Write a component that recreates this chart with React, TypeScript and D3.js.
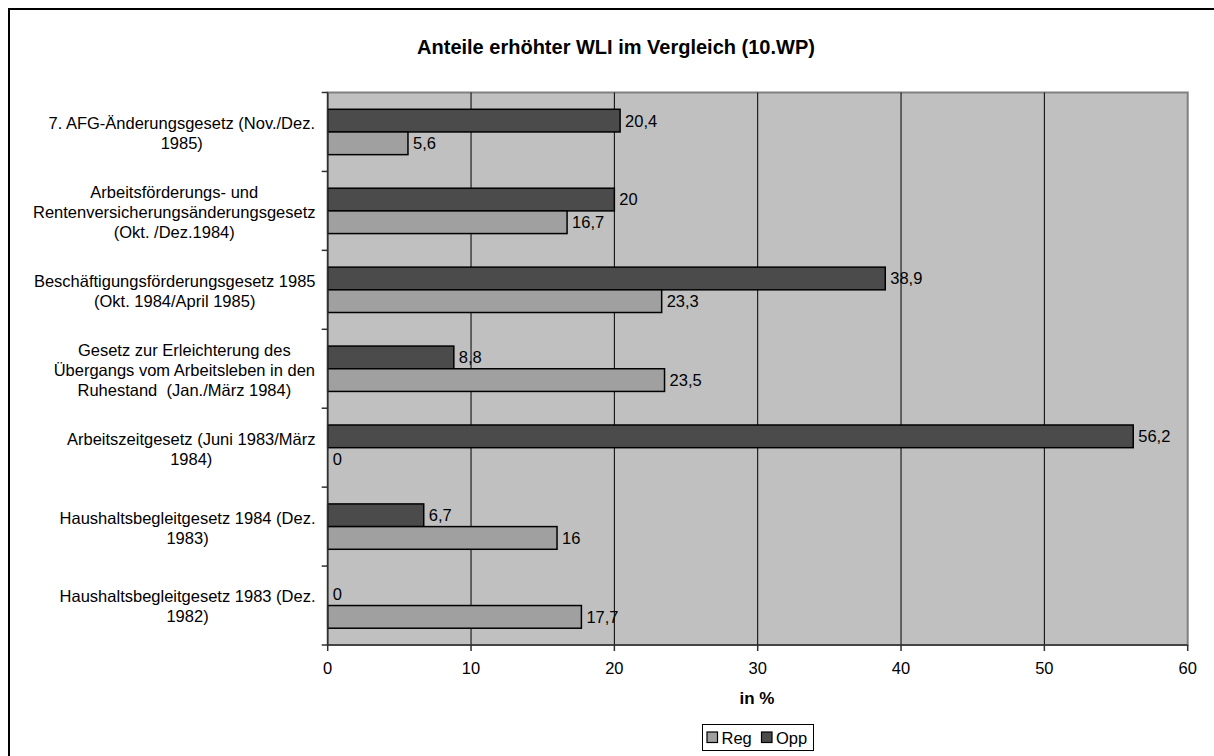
import React from "react";
import * as d3 from "d3";

// Laws (top to bottom), each label split into its printed lines
const categories: string[][] = [
  ["7. AFG-Änderungsgesetz (Nov./Dez.", "1985)"],
  ["Arbeitsförderungs- und", "Rentenversicherungsänderungsgesetz", "(Okt. /Dez.1984)"],
  ["Beschäftigungsförderungsgesetz 1985", "(Okt. 1984/April 1985)"],
  ["Gesetz zur Erleichterung des", "Übergangs vom Arbeitsleben in den", "Ruhestand  (Jan./März 1984)"],
  ["Arbeitszeitgesetz (Juni 1983/März", "1984)"],
  ["Haushaltsbegleitgesetz 1984 (Dez.", "1983)"],
  ["Haushaltsbegleitgesetz 1983 (Dez.", "1982)"],
];

const regValues = [5.6, 16.7, 23.3, 23.5, 0, 16, 17.7];
const oppValues = [20.4, 20, 38.9, 8.8, 56.2, 6.7, 0];

const seriesNames = ["Opp", "Reg"];
const legendNames = ["Reg", "Opp"];
const xTicks = [0, 10, 20, 30, 40, 50, 60];

const W = 1214;
const H = 756;
const plot = { left: 327.7, right: 1187.7, top: 92.5, bottom: 645 };
const FONT = "'Liberation Sans', Arial, sans-serif";
const fills: Record<string, string> = { Reg: "#a0a0a0", Opp: "#4b4b4b" };

const fmt = (v: number) => String(v).replace(".", ",");

function textWidth(s: string, size: number): number {
  const c = document.createElement("canvas").getContext("2d");
  if (!c) return s.length * size * 0.5;
  c.font = `${size}px 'Liberation Sans', Arial, sans-serif`;
  return c.measureText(s).width;
}

export default function App() {
  const keys = categories.map((_, i) => String(i));
  const y = d3.scaleBand<string>().domain(keys).range([plot.top, plot.bottom]).padding(0);
  const inner = d3
    .scaleBand<string>()
    .domain(seriesNames)
    .range([0, y.step()])
    .paddingInner(0)
    .paddingOuter(0.74);
  const x = d3.scaleLinear().domain([0, 60]).range([plot.left, plot.right]);

  const values: Record<string, number[]> = { Reg: regValues, Opp: oppValues };
  const labelSize = 16.5;
  const lineH = 20;
  const labelRight = 315.5;

  return (
    <svg
      width={W}
      height={H}
      style={{ position: "absolute", left: 0, top: 0, background: "#fff" }}
      fontFamily={FONT}
    >
      <rect x={9} y={9} width={W + 50} height={H + 50} fill="#fff" stroke="#000" strokeWidth={2} />

      <text x={616} y={54} textAnchor="middle" fontSize={20} fontWeight="bold" fill="#000">
        Anteile erhöhter WLI im Vergleich (10.WP)
      </text>

      {/* plot area */}
      <rect
        x={plot.left}
        y={plot.top}
        width={plot.right - plot.left}
        height={plot.bottom - plot.top}
        fill="#c0c0c0"
        stroke="#808080"
        strokeWidth={2}
      />

      {/* vertical gridlines */}
      {xTicks.slice(1, -1).map((t) => (
        <line key={t} x1={x(t)} x2={x(t)} y1={plot.top} y2={plot.bottom} stroke="#000" strokeWidth={1} />
      ))}

      {/* bars */}
      {keys.map((k, i) =>
        seriesNames.map((s) => {
          const v = values[s][i];
          const by = (y(k) ?? 0) + (inner(s) ?? 0);
          const bh = inner.bandwidth();
          return (
            <g key={k + s}>
              {v > 0 && (
                <rect
                  x={x(0)}
                  y={by}
                  width={x(v) - x(0)}
                  height={bh}
                  fill={fills[s]}
                  stroke="#000"
                  strokeWidth={1.5}
                />
              )}
              <text x={x(v) + 5} y={by + bh / 2} dy="0.36em" fontSize={16.5} fill="#000">
                {fmt(v)}
              </text>
            </g>
          );
        })
      )}

      {/* left axis */}
      <line x1={plot.left} x2={plot.left} y1={plot.top} y2={plot.bottom} stroke="#303030" strokeWidth={1.5} />
      {[...keys.map((k) => y(k) ?? 0), plot.bottom].map((yy, i) => (
        <line key={i} x1={plot.left - 6} x2={plot.left} y1={yy} y2={yy} stroke="#303030" strokeWidth={1.5} />
      ))}

      {/* category labels: lines centred within a block right-aligned to the axis */}
      {categories.map((lines, i) => {
        const maxW = Math.max(...lines.map((l) => textWidth(l, labelSize)));
        const cx = labelRight - maxW / 2;
        const cy = (y(String(i)) ?? 0) + y.bandwidth() / 2 + 1;
        const y0 = cy - ((lines.length - 1) * lineH) / 2;
        return (
          <text key={i} textAnchor="middle" fontSize={labelSize} fill="#000">
            {lines.map((l, j) => (
              <tspan key={j} x={cx} y={y0 + j * lineH} dy="0.36em" style={{ whiteSpace: "pre" }}>
                {l}
              </tspan>
            ))}
          </text>
        );
      })}

      {/* bottom axis */}
      <line x1={plot.left} x2={plot.right} y1={plot.bottom} y2={plot.bottom} stroke="#303030" strokeWidth={1.5} />
      {xTicks.map((t) => (
        <g key={t}>
          <line x1={x(t)} x2={x(t)} y1={plot.bottom} y2={plot.bottom + 6} stroke="#303030" strokeWidth={1.5} />
          <text x={x(t)} y={674} textAnchor="middle" fontSize={16.5} fill="#000">
            {t}
          </text>
        </g>
      ))}

      <text x={757} y={704} textAnchor="middle" fontSize={17} fontWeight="bold" fill="#000">
        in %
      </text>

      {/* legend */}
      <rect x={702.5} y={724.5} width={111} height={26} fill="#fff" stroke="#000" strokeWidth={1} />
      {legendNames.map((n, i) => {
        const lx = i === 0 ? 707 : 761.5;
        return (
          <g key={n}>
            <rect x={lx} y={732} width={10.5} height={10.5} fill={fills[n]} stroke="#000" strokeWidth={1.2} />
            <text x={lx + 14.5} y={744} fontSize={16.5} fill="#000">
              {n}
            </text>
          </g>
        );
      })}
    </svg>
  );
}
